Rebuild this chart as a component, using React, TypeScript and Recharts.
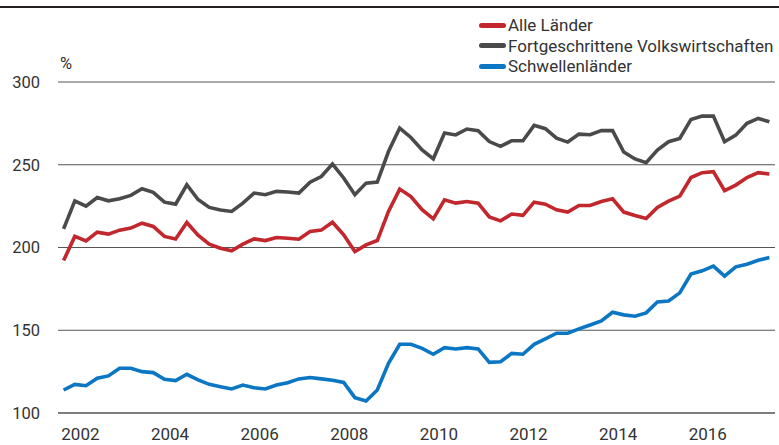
import React from 'react';
import { CartesianGrid, Legend, Line, LineChart, XAxis, YAxis } from 'recharts';

// Quartale 2002Q1 .. 2017Q4
const quarters = [
  '2002Q1', '2002Q2', '2002Q3', '2002Q4', '2003Q1', '2003Q2', '2003Q3', '2003Q4',
  '2004Q1', '2004Q2', '2004Q3', '2004Q4', '2005Q1', '2005Q2', '2005Q3', '2005Q4',
  '2006Q1', '2006Q2', '2006Q3', '2006Q4', '2007Q1', '2007Q2', '2007Q3', '2007Q4',
  '2008Q1', '2008Q2', '2008Q3', '2008Q4', '2009Q1', '2009Q2', '2009Q3', '2009Q4',
  '2010Q1', '2010Q2', '2010Q3', '2010Q4', '2011Q1', '2011Q2', '2011Q3', '2011Q4',
  '2012Q1', '2012Q2', '2012Q3', '2012Q4', '2013Q1', '2013Q2', '2013Q3', '2013Q4',
  '2014Q1', '2014Q2', '2014Q3', '2014Q4', '2015Q1', '2015Q2', '2015Q3', '2015Q4',
  '2016Q1', '2016Q2', '2016Q3', '2016Q4', '2017Q1', '2017Q2', '2017Q3', '2017Q4'
];

const alleLaender = [
  192.1, 206.7, 204, 209.3, 208.1, 210.5, 211.7, 214.7,
  212.7, 206.7, 205.2, 215.1, 207.5, 202, 199.6, 198,
  202, 205.2, 204.2, 206, 205.6, 205, 209.7, 210.5,
  215.3, 207.7, 197.6, 201.6, 204.2, 221.8, 235.3, 230.8,
  222.8, 217.3, 228.8, 226.8, 227.8, 226.8, 218.5, 216.1,
  220.2, 219.4, 227.4, 226.2, 222.8, 221.4, 225.4, 225.4,
  227.8, 229.4, 221.4, 219.3, 217.5, 224.2, 228, 231,
  242.3, 245.2, 245.8, 234.3, 237.7, 242.3, 245.2, 244.4
];

const fortgeschritten = [
  211.3, 228.2, 225, 230.2, 228.2, 229.4, 231.5, 235.5,
  233.3, 227.4, 226.2, 237.9, 229, 224.2, 222.6, 221.8,
  226.8, 232.9, 231.9, 233.9, 233.5, 232.9, 239.5, 242.9,
  250.4, 242, 231.9, 238.9, 239.5, 258, 272.2, 266.5,
  259, 253.6, 269.2, 268, 271.6, 270.6, 264, 261.1,
  264.5, 264.5, 273.8, 271.8, 266.1, 263.7, 268.5, 268.1,
  270.6, 270.6, 257.7, 253.5, 251.2, 258.9, 263.9, 265.9,
  277.4, 279.4, 279.4, 263.9, 267.9, 275, 278, 276
];

const schwellenlaender = [
  113.9, 117.3, 116.5, 121, 122.4, 127, 127, 125,
  124.4, 120.4, 119.6, 123.4, 120, 117.3, 115.9, 114.5,
  116.9, 115.3, 114.5, 116.9, 118.3, 120.6, 121.4, 120.6,
  119.8, 118.5, 109.3, 107.3, 113.9, 130, 141.5, 141.5,
  139.1, 135.5, 139.5, 138.7, 139.5, 138.7, 130.6, 131,
  136, 135.5, 141.5, 144.8, 148.2, 148.2, 150.8, 153.2,
  155.6, 160.9, 159.3, 158.5, 160.5, 167.1, 167.7, 172.6,
  183.9, 185.9, 188.7, 182.7, 188.3, 189.9, 192.3, 193.9
];

const yearTicks = [2002, 2003, 2004, 2005, 2006, 2007, 2008, 2009, 2010, 2011, 2012, 2013, 2014, 2015, 2016, 2017, 2018];
const labelYears = [2002, 2004, 2006, 2008, 2010, 2012, 2014, 2016];
const yTicks = [100, 150, 200, 250, 300];

const series = [
  { key: 'alle', name: 'Alle Länder', color: '#c1272d' },
  { key: 'fort', name: 'Fortgeschrittene Volkswirtschaften', color: '#4a4a4a' },
  { key: 'schw', name: 'Schwellenländer', color: '#0b76c4' }
];

// quarter midpoint on a continuous year scale
const toYearPos = (q: string) => Number(q.slice(0, 4)) + (Number(q.slice(5)) - 0.5) / 4;

const data = quarters.map((q, i) => ({
  t: toYearPos(q),
  alle: alleLaender[i],
  fort: fortgeschritten[i],
  schw: schwellenlaender[i]
}));

const font = 'Roboto, sans-serif';
const textColor = '#333';

const LegendList = ({ payload }: any) => (
  <div style={{ fontFamily: font, fontSize: 17, color: textColor, lineHeight: '20.5px' }}>
    {(payload || []).map((entry: any) => (
      <div key={entry.value} style={{ display: 'flex', alignItems: 'center', whiteSpace: 'nowrap' }}>
        <span
          style={{
            display: 'inline-block',
            width: 27,
            height: 5,
            borderRadius: 3,
            background: entry.color,
            marginRight: 2
          }}
        />
        <span>{entry.value}</span>
      </div>
    ))}
  </div>
);

const PercentLabel = (props: any) => {
  const { viewBox } = props;
  return (
    <text
      x={viewBox.x + viewBox.width + 2}
      y={viewBox.y - 13}
      fill={textColor}
      fontSize={16.5}
      fontFamily={font}
    >
      %
    </text>
  );
};

export default function App() {
  return (
    <div style={{ position: 'absolute', left: 0, top: 0, width: 779, height: 445, background: '#fff' }}>
      <div style={{ position: 'absolute', left: 0, top: 6, width: 779, height: 2, background: '#231f20' }} />
      <LineChart
        width={779}
        height={445}
        data={data}
        margin={{ top: 82, right: 4, left: 0, bottom: 0 }}
        style={{ fontFamily: font }}
      >
        <CartesianGrid vertical={false} stroke="#555" />
        <XAxis
          dataKey="t"
          type="number"
          domain={[2002, 2018]}
          ticks={yearTicks}
          tick={false}
          tickSize={7}
          height={8}
          axisLine={{ stroke: '#555' }}
          tickLine={{ stroke: '#555' }}
          allowDataOverflow
        />
        <XAxis
          xAxisId="labels"
          dataKey="t"
          type="number"
          domain={[2002, 2018]}
          ticks={labelYears.map(y => y + 0.5)}
          tickFormatter={(v: number) => String(Math.floor(v))}
          interval={0}
          axisLine={false}
          tickLine={false}
          tickSize={0}
          tickMargin={7}
          height={24}
          tick={{ fill: textColor, fontSize: 17 }}
          allowDataOverflow
        />
        <YAxis
          domain={[100, 300]}
          ticks={yTicks}
          width={58}
          tickLine={false}
          axisLine={false}
          tickSize={0}
          tickMargin={18}
          tick={{ fill: textColor, fontSize: 16.5 }}
          label={PercentLabel}
          allowDataOverflow
        />
        <Legend
          layout="horizontal"
          verticalAlign="middle"
          align="center"
          content={LegendList}
          wrapperStyle={{ left: 479, top: 15, width: 300 }}
        />
        {series.map(s => (
          <Line
            key={s.key}
            type="linear"
            dataKey={s.key}
            name={s.name}
            stroke={s.color}
            strokeWidth={3.6}
            dot={false}
            activeDot={false}
            isAnimationActive={false}
          />
        ))}
      </LineChart>
    </div>
  );
}
